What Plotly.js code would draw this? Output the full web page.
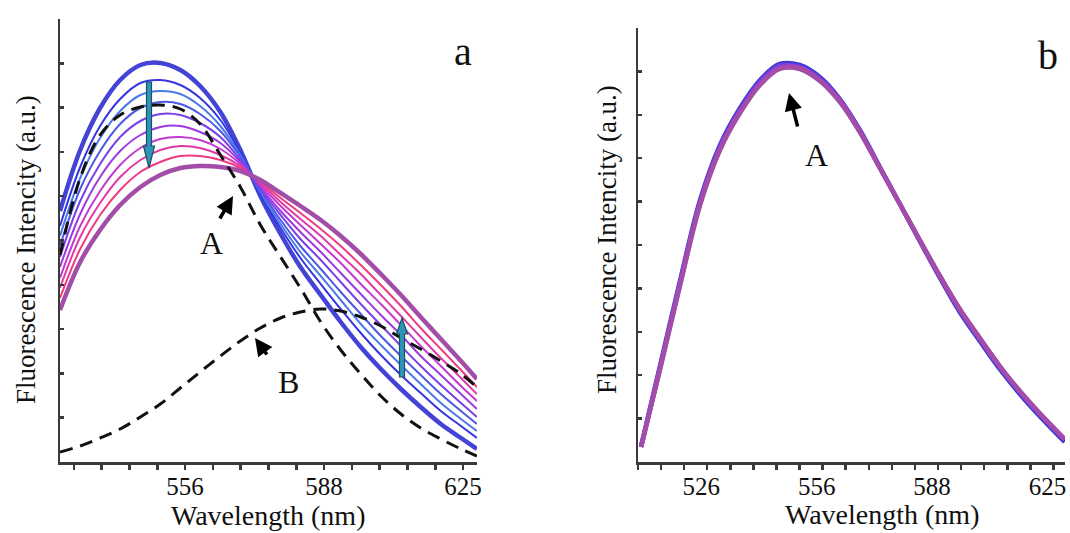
<!DOCTYPE html>
<html><head><meta charset="utf-8">
<script src="https://cdn.plot.ly/plotly-3.0.1.min.js"></script>
<style>html,body{margin:0;padding:0;background:#fff}#chart{width:1070px;height:533px}</style>
</head><body><div id="chart"></div>
<script>
// ---------- Panel a data (wavelength in nm, intensity in a.u.) ----------
const wavelengthA = [529.1,533.2,537.3,541.5,545.8,550.1,554.5,558.9,563.5,568.1,572.8,577.6,582.4,587.4,592.4,597.5,602.7,608.0,613.3,618.8,624.4,628.9];
const spectrumA0 = [251,312,354,382,397,399,392,376,350,312,266,228,195,167,140,115,93,73,55,38,24,13];
const spectrumA1 = [236,295,336,363,379,382,377,364,342,309,268,234,204,178,153,129,107,87,69,51,36,24];
const spectrumA2 = [226,284,324,351,367,371,368,356,336,307,270,238,210,186,162,138,117,97,78,59,43,31];
const spectrumA3 = [216,273,311,338,354,360,358,348,331,305,272,242,216,193,170,148,126,106,87,68,51,38];
const spectrumA4 = [205,261,298,325,341,348,347,339,325,302,273,247,223,202,180,158,137,116,96,77,59,45];
const spectrumA5 = [195,248,285,311,327,335,336,330,319,300,275,251,230,210,189,168,147,127,106,87,68,53];
const spectrumA6 = [184,236,271,297,314,323,325,322,313,298,277,256,237,218,199,178,158,137,116,96,76,61];
const spectrumA7 = [174,225,259,285,302,312,316,314,307,296,279,260,243,226,207,188,167,146,125,104,84,68];
const spectrumA8 = [164,213,247,272,290,300,306,306,302,294,280,264,249,233,216,197,177,156,134,113,92,75];
const spectrumA9 = [152,200,232,257,275,287,294,296,295,291,282,269,256,242,226,208,188,167,145,123,101,83];
const dashedCurveA = [207,284,327,347,355,357,353,338,307,275,237,205,174,140,112,88,66,48,34,23,13,6];
const dashedCurveB = [10,16,24,33,45,58,74,90,106,121,134,144,150,153,151,145,136,124,113,101,88,75];

// ---------- Panel b data ----------
const wavelengthB = [510.9,515.2,519.9,524.6,529.4,534.3,539.3,544.3,549.5,554.8,560.2,565.7,571.3,577.0,582.8,588.8,594.8,601.0,607.3,613.8,620.3,628.8];
const spectrumB1 = [16,96,182,262,317,354,382,398,397,385,363,332,295,258,221,184,150,121,93,68,46,20];
const spectrumB2 = [15,94,180,260,315,352,380,396,395,383,362,331,294,258,221,185,152,123,95,70,48,22];
const spectrumB3 = [15,93,178,258,313,350,378,394,394,382,361,330,294,258,222,186,153,124,96,71,49,23];
const spectrumB4 = [15,92,177,257,312,349,377,393,393,381,360,330,294,258,222,186,153,124,96,71,49,23];

// Axis ticks (axis is linear in wavenumber, labelled in nm)
const tickWavenumbers = [19000,18000,17000,16000];
const tickLabels = ['526','556','588','625'];

const toWn = arr => arr.map(l => 1e7 / l);
const W = 1070, H = 533;
const px = x => x / W, py = y => 1 - y / H;

const colorsA = ['#4343d6','#3535e2','#4a7ae8','#4d58e4','#7a40e8','#9c3ae0','#c23ad2','#e03aa8','#f03a80','#a24ea8'];
const seriesA = [spectrumA0,spectrumA1,spectrumA2,spectrumA3,spectrumA4,spectrumA5,spectrumA6,spectrumA7,spectrumA8,spectrumA9];
const traces = [];
seriesA.forEach((s, i) => {
  traces.push({x: toWn(wavelengthA), y: s, xaxis:'x', yaxis:'y', mode:'lines', hoverinfo:'skip',
    line:{color: colorsA[i], width: (i===0||i===9) ? 4.5 : 2, shape:'spline', smoothing:1}});
});
[dashedCurveA, dashedCurveB].forEach(s => {
  traces.push({x: toWn(wavelengthA), y: s, xaxis:'x', yaxis:'y', mode:'lines', hoverinfo:'skip',
    line:{color:'#111', width:3, dash:'13px,8px', shape:'spline', smoothing:1}});
});
const colorsB = ['#3c3cd4','#7a3ee0','#b23cc0','#a24ea8'];
[spectrumB1,spectrumB2,spectrumB3,spectrumB4].forEach((s, i) => {
  traces.push({x: toWn(wavelengthB), y: s, xaxis:'x2', yaxis:'y2', mode:'lines', hoverinfo:'skip',
    line:{color: colorsB[i], width: 4.5, shape:'spline', smoothing:1}});
});

const serif = 'Liberation Serif, Times New Roman, serif';
const axisFont = {family:serif, size:25, color:'#111'};
function xAxis(domain, range, shift){
  return {domain, range, showline:true, linecolor:'#3a3a3a', linewidth:2.5, showgrid:false, zeroline:false,
    tickmode:'array', tickvals:tickWavenumbers, ticktext:tickLabels, ticks:'outside', ticklen:5, tickwidth:2.5,
    tickcolor:'#3a3a3a', tickfont:axisFont, ticklabeloverflow:'allow', ticklabelstandoff:-5, ticklabelshift:shift,
    minor:{tickmode:'linear', tick0:16000, dtick:200, ticks:'outside', ticklen:5, tickwidth:2.5, tickcolor:'#3a3a3a', showgrid:false}};
}
function yAxis(domain, top, step, anchor){
  return {domain, range:[0, top], showline:true, linecolor:'#3a3a3a', linewidth:2.5, showgrid:false, zeroline:false,
    tickmode:'linear', tick0:0, dtick:step, ticks:'inside', ticklen:4, tickwidth:2.5, tickcolor:'#3a3a3a',
    showticklabels:false, anchor};
}

const txt = (t, x, y, size, angle) => ({text:t, xref:'paper', yref:'paper', x:px(x), y:py(y), showarrow:false,
  xanchor:'center', yanchor:'middle', textangle: angle||0, font:{family:serif, size, color:'#111'}});
const arr = (x, y, ax, ay) => ({text:'', xref:'paper', yref:'paper', x:px(x), y:py(y), ax, ay, axref:'pixel', ayref:'pixel',
  showarrow:true, arrowhead:2, arrowsize:1, arrowwidth:3.5, arrowcolor:'#000'});

function arrowPath(cx, tail, base, tip, hw, hh){
  const pts = [[cx-hw,tail],[cx+hw,tail],[cx+hw,base],[cx+hh,base],[cx,tip],[cx-hh,base],[cx-hw,base]];
  return 'M ' + pts.map(p => px(p[0]).toFixed(5) + ',' + py(p[1]).toFixed(5)).join(' L ') + ' Z';
}

const layout = {
  width:W, height:H, margin:{l:0,r:0,t:0,b:0}, paper_bgcolor:'#fff', plot_bgcolor:'#fff', showlegend:false,
  xaxis: Object.assign(xAxis([px(60), px(477)], [18900, 15900], 0), {anchor:'y'}),
  yaxis: yAxis([1-462/H, 1-19/H], 443, 44.3, 'x'),
  xaxis2: Object.assign(xAxis([px(638), px(1065)], [19600, 15900], 6), {anchor:'y2'}),
  yaxis2: yAxis([1-462/H, 1-28/H], 434, 43.4, 'x2'),
  annotations: [
    txt('a', 463, 52, 40), txt('b', 1048, 55, 40),
    txt('A', 211, 243, 32), txt('B', 288, 382, 32), txt('A', 816, 155, 32),
    txt('Fluorescence Intencity (a.u.)', 26, 250, 27, -90),
    txt('Fluorescence Intencity (a.u.)', 607, 240, 27, -90),
    txt('Wavelength (nm)', 268, 515, 28), txt('Wavelength (nm)', 882, 514, 28),
    arr(233, 196, -14, 24), arr(255, 338, 13, 18), arr(789, 93, 9, 35)
  ],
  shapes: [
    {type:'path', xref:'paper', yref:'paper', path: arrowPath(149, 82, 146, 168, 2.5, 5.5), fillcolor:'#2f95b8', line:{color:'#1d4f63', width:1.2}},
    {type:'path', xref:'paper', yref:'paper', path: arrowPath(402, 377, 334, 318, 2.5, 5.5), fillcolor:'#2f95b8', line:{color:'#1d4f63', width:1.2}}
  ]
};

Plotly.newPlot('chart', traces, layout, {staticPlot:true, displayModeBar:false});
</script>
</body></html>
